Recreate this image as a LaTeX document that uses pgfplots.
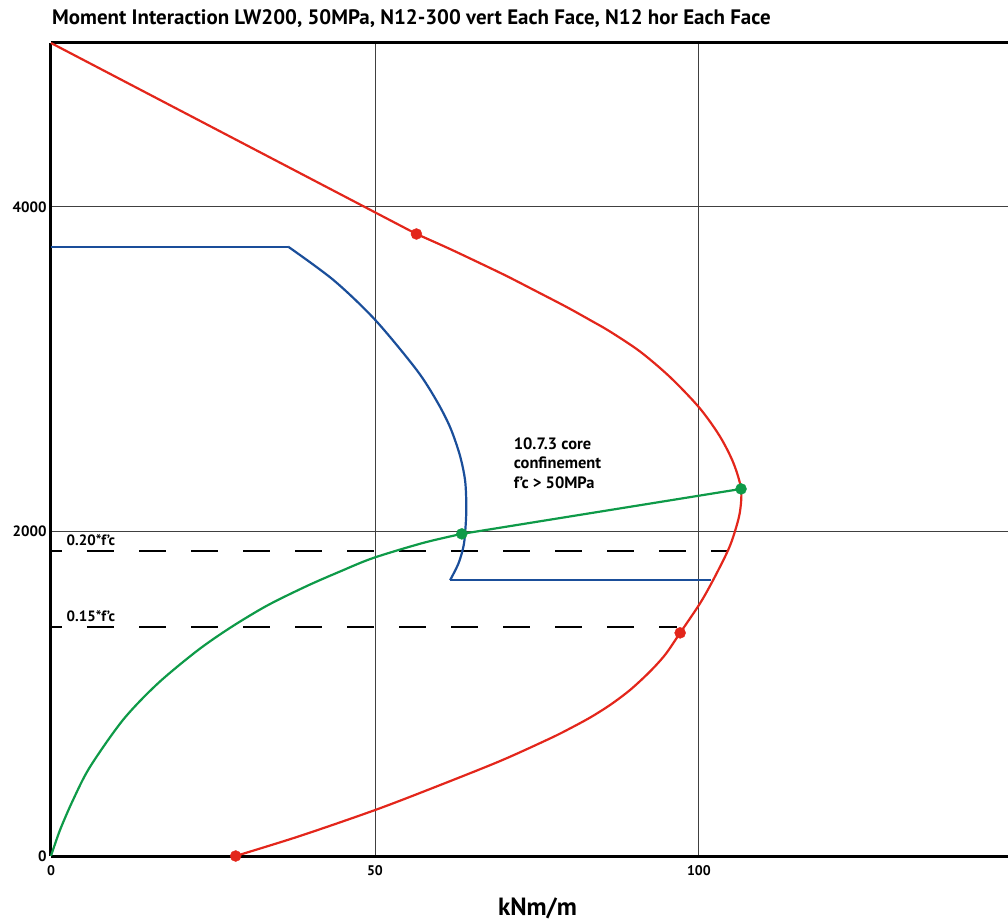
\documentclass[border=0pt]{standalone}
\usepackage{fontspec}
\setmainfont{PT Sans}[BoldFont={PT Sans Bold}]
\usepackage{pgfplots}
\pgfplotsset{compat=1.18}
\usetikzlibrary{calc}
\definecolor{cred}{HTML}{E3261B}
\definecolor{cblue}{HTML}{1A4E9A}
\definecolor{cgreen}{HTML}{0E9A48}
\begin{document}
\begin{tikzpicture}
\begin{axis}[
  scale only axis, width=957bp, height=813bp,
  xmin=0, xmax=147.7, ymin=0, ymax=5010,
  axis x line*=box, axis y line*=left,
  axis line style={line width=3bp, black},
  xtick={0,50,100}, ytick={0,2000,4000},
  major tick length=0pt,
  grid=major, grid style={line width=0.9bp, black!75},
  /pgf/number format/assume math mode=true,
  scaled ticks=false, /pgf/number format/1000 sep={},
  xticklabel style={font=\fontsize{14}{14}\selectfont\bfseries, yshift=-6bp},
  yticklabel style={font=\fontsize{15}{15}\selectfont\bfseries, xshift=-1bp},
  xlabel={kNm/m},
  xlabel style={font=\fontsize{25}{26}\selectfont\bfseries, at={(rel axis cs:0.5,0)}, anchor=center, yshift=-52bp, xshift=8bp},
  clip=false,
]
\coordinate (SW) at (rel axis cs:0,0);
\coordinate (NE) at (rel axis cs:1,1);
% dashed limits
\addplot[black, line width=2.6bp, dash pattern=on 27bp off 25bp, dash phase=16bp] coordinates {(0,1880) (104.3,1880)};
\addplot[black, line width=2.6bp, dash pattern=on 27bp off 25bp, dash phase=16bp] coordinates {(0,1412) (96.6,1412)};
% blue
\addplot[cblue, line width=2.2bp] coordinates {(0,3755) (36.6,3755)};
\addplot[cblue, line width=2.2bp, smooth, tension=0.5] coordinates {
(36.6,3755) (43.6,3549) (50.0,3305) (56.4,2997) (59.5,2806) (61.6,2642) (63.1,2470)
(63.9,2317) (64.1,2163) (64.0,2040) (63.7,1916) (62.9,1804) (61.6,1700)};
\addplot[cblue, line width=2.2bp] coordinates {(61.6,1700) (101.9,1700)};
% red
\addplot[cred, line width=2.2bp] coordinates {(0,5010) (56.4,3833)};
\addplot[cred, line width=2.2bp, smooth, tension=0.5] coordinates {
(56.4,3833) (61.06,3750) (65.69,3663) (70.32,3574) (74.95,3479) (79.58,3383) (83.18,3303)
(86.27,3232) (90.9,3109) (95.52,2952) (100.05,2763) (103.2,2588) (105.3,2424) (106.5,2262)
(106.3,2114) (105.3,1968) (104.3,1867) (102.2,1701) (100.2,1559) (97.1,1375) (94.8,1241)
(92.4,1135) (89.4,1024) (86.3,931) (83.2,853) (80.1,786) (77.0,724) (69.3,585) (58.9,419)
(50.0,283) (38.4,123) (28.5,0)};
\addplot[cred, only marks, mark=*, mark size=5.5bp] coordinates {(56.4,3833) (97.1,1375) (28.5,0)};
% green
\addplot[cgreen, line width=2.2bp, smooth, tension=0.5] coordinates {
(0,0) (1.39,160) (3.4,345) (6.0,548) (11.1,838) (16.4,1060) (22.5,1263) (27.6,1405)
(33.3,1542) (39.5,1664) (44.6,1753) (49.7,1836) (57.4,1929) (63.4,1985)};
\addplot[cgreen, line width=2.2bp] coordinates {(63.4,1985) (106.5,2262)};
\addplot[cgreen, only marks, mark=*, mark size=5.5bp] coordinates {(63.4,1985) (106.5,2262)};
% labels
\node[anchor=west, font=\fontsize{15}{15}\selectfont\bfseries, inner sep=0pt] at (axis cs:2.4,1945) {0.20*f’c};
\node[anchor=west, font=\fontsize{15}{15}\selectfont\bfseries, inner sep=0pt] at (axis cs:2.4,1480) {0.15*f’c};
\node[anchor=north west, align=left, font=\fontsize{16.5}{19.5}\selectfont\bfseries, inner sep=0pt] at (axis cs:71.4,2580) {10.7.3 core\\confinement\\f’c > 50MPa};
\node[anchor=base west, font=\fontsize{21}{22}\selectfont\bfseries, inner sep=0pt] at ($(rel axis cs:0,1)+(1bp,18bp)$) {Moment Interaction LW200, 50MPa, N12-300 vert Each Face, N12 hor Each Face};
\end{axis}
\pgfresetboundingbox
\path[use as bounding box] ($(SW)+(-51bp,-64bp)$) rectangle ($(NE)+(0,43bp)$);
\end{tikzpicture}
\end{document}
